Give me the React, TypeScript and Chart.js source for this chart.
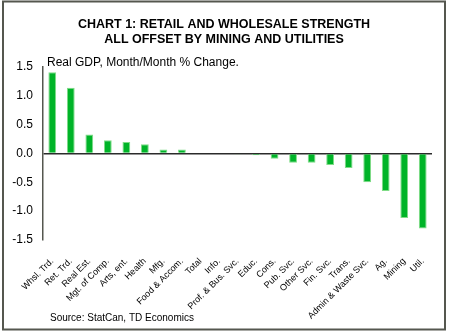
import React, { useEffect, useRef } from "react";
import { Chart, registerables } from "chart.js";

Chart.register(...registerables);

const titleLines = ["CHART 1: RETAIL AND WHOLESALE STRENGTH", "ALL OFFSET BY MINING AND UTILITIES"];
const subtitleText = "Real GDP, Month/Month % Change.";
const sourceText = "Source: StatCan, TD Economics";

const categories = [
  "Whsl. Trd.", "Ret. Trd.", "Real Est.", "Mgt. of Comp.", "Arts, ent.", "Health", "Mfg.",
  "Food & Accom.", "Total", "Info.", "Prof. & Bus. Svc.", "Educ.", "Cons.", "Pub. Svc.",
  "Other Svc.", "Fin. Svc.", "Trans.", "Admin & Waste Svc.", "Ag.", "Mining", "Util.",
];
const values = [
  1.41, 1.14, 0.33, 0.23, 0.2, 0.16, 0.07, 0.07, 0.0, 0.0, -0.01, -0.03, -0.09, -0.16,
  -0.16, -0.2, -0.25, -0.5, -0.65, -1.12, -1.3,
];
const yMin = -1.5;
const yMax = 1.5;
const yStep = 0.5;

const FONT = "'Liberation Sans', Arial, sans-serif";

const decorPlugin = {
  id: "decor",
  beforeDraw(chart: any) {
    const ctx = chart.ctx;
    ctx.save();
    ctx.fillStyle = "#ffffff";
    ctx.fillRect(0, 0, chart.width, chart.height);
    ctx.restore();
  },
  afterDraw(chart: any) {
    const ctx = chart.ctx;
    ctx.save();
    // frame
    ctx.strokeStyle = "#55574f";
    ctx.lineWidth = 2;
    ctx.strokeRect(3, 1.5, 442, 328);
    // title
    ctx.fillStyle = "#000000";
    ctx.textAlign = "center";
    ctx.textBaseline = "middle";
    ctx.font = `bold 12.5px ${FONT}`;
    ctx.fillText(titleLines[0], 224, 25);
    ctx.fillText(titleLines[1], 224, 40);
    // subtitle
    ctx.textAlign = "left";
    ctx.font = `12px ${FONT}`;
    ctx.fillText(subtitleText, 47, 62.5);
    // source
    ctx.font = `10px ${FONT}`;
    ctx.fillText(sourceText, 50, 318);
    ctx.restore();
  },
};

export default function App() {
  const ref = useRef<HTMLCanvasElement>(null);
  useEffect(() => {
    document.body.style.margin = "0";
    const chart = new Chart(ref.current as HTMLCanvasElement, {
      type: "bar",
      data: {
        labels: categories,
        datasets: [
          {
            data: values,
            backgroundColor: "#00b428",
            borderColor: "#7fdc86",
            borderWidth: 1,
            categoryPercentage: 1,
            barPercentage: 0.42,
          },
        ],
      },
      options: {
        responsive: false,
        animation: false,
        layout: { padding: { top: 67, right: 18, left: 0, bottom: 0 } },
        plugins: { legend: { display: false }, tooltip: { enabled: false }, title: { display: false } },
        scales: {
          x: {
            grid: { display: false },
            border: { display: false },
            ticks: {
              autoSkip: false,
              minRotation: 45,
              maxRotation: 45,
              padding: 8,
              color: "#000",
              font: { family: FONT, size: 9 },
            },
            afterFit(scale: any) {
              scale.height = 332 - 240;
            },
          },
          y: {
            min: yMin,
            max: yMax,
            ticks: {
              stepSize: yStep,
              padding: 10,
              color: "#000",
              font: { family: FONT, size: 12 },
              callback: (v: any) => Number(v).toFixed(1),
            },
            grid: {
              drawTicks: false,
              color: (c: any) => (c.tick && c.tick.value === 0 ? "#2b2b2b" : "rgba(0,0,0,0)"),
              lineWidth: 1.5,
            },
            border: { display: true, color: "#55574f", width: 1.5 },
            afterFit(scale: any) {
              scale.width = 43;
            },
          },
        },
      },
      plugins: [decorPlugin],
    });
    return () => chart.destroy();
  }, []);
  return <canvas ref={ref} width={450} height={332} style={{ display: "block" }} />;
}
